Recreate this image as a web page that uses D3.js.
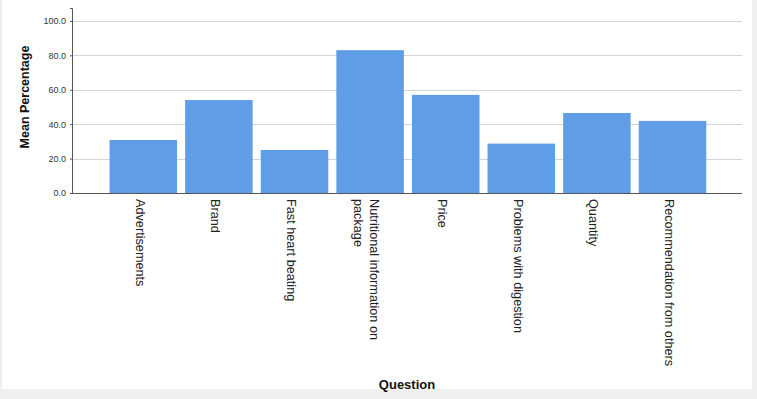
<!DOCTYPE html>
<html>
<head>
<meta charset="utf-8">
<script src="https://cdn.jsdelivr.net/npm/d3@7"></script>
<style>
  body { margin: 0; background: #f0f0f0; }
  svg { display: block; font-family: "Liberation Sans", Arial, sans-serif; }
</style>
</head>
<body>
<div id="chart"></div>
<script>
const categories = [
  ["Advertisements"],
  ["Brand"],
  ["Fast heart beating"],
  ["Nutritional information on", "package"],
  ["Price"],
  ["Problems with digestion"],
  ["Quantity"],
  ["Recommendation from others"]
];
const values = [30.8, 54.0, 25.0, 83.0, 57.0, 28.7, 46.5, 41.9];
const yTicks = [0, 20, 40, 60, 80, 100];

const W = 757, H = 399;
const svg = d3.select("#chart").append("svg")
  .attr("width", W)
  .attr("height", H);

// white panel
svg.append("rect")
  .attr("x", 2).attr("y", 0)
  .attr("width", 750).attr("height", 389)
  .attr("fill", "#fff");

const axisX = 72, plotRight = 742, baseY = 193, topY = 8;

const x = d3.scaleBand()
  .domain(d3.range(categories.length))
  .range([105.5, 710.3])
  .paddingInner(0.107)
  .paddingOuter(0.0535);

const y = d3.scaleLinear()
  .domain([0, 107.5])
  .range([baseY, topY]);

// grid lines
svg.append("g")
  .selectAll("line")
  .data(yTicks.filter(d => d > 0))
  .enter().append("line")
  .attr("x1", axisX).attr("x2", plotRight)
  .attr("y1", d => Math.round(y(d)) + 0.5)
  .attr("y2", d => Math.round(y(d)) + 0.5)
  .attr("stroke", "#d4d4d4");

// y axis
const yAxis = svg.append("g")
  .attr("transform", `translate(${axisX},0)`)
  .call(d3.axisLeft(y).tickValues(yTicks).tickFormat(d3.format(".1f")).tickSize(2).tickPadding(4));
yAxis.select(".domain").attr("stroke", "#555");
yAxis.selectAll(".tick line").attr("stroke", "#555");
yAxis.selectAll(".tick text")
  .attr("font-size", 9)
  .attr("font-family", "Liberation Sans, Arial, sans-serif")
  .attr("fill", "#333");

// bars
svg.append("g")
  .selectAll("rect")
  .data(values)
  .enter().append("rect")
  .attr("x", (d, i) => x(i))
  .attr("width", x.bandwidth())
  .attr("y", d => y(d))
  .attr("height", d => baseY - y(d))
  .attr("fill", "#5f9ee6");

// x baseline
svg.append("line")
  .attr("x1", axisX - 1).attr("x2", plotRight)
  .attr("y1", baseY + 0.5).attr("y2", baseY + 0.5)
  .attr("stroke", "#555");

// category labels, rotated 90deg
const labels = svg.append("g")
  .selectAll("text")
  .data(categories)
  .enter().append("text")
  .attr("transform", (d, i) => {
    const cx = x(i) + x.bandwidth() / 2 + (d.length > 1 ? 4 : -3);
    return `translate(${cx},199) rotate(90)`;
  })
  .attr("font-size", 12.7)
  .attr("fill", "#222");
labels.each(function (d) {
  const t = d3.select(this);
  d.forEach((line, k) => {
    t.append("tspan")
      .attr("x", 0)
      .attr("dy", k === 0 ? "0.35em" : "1.25em")
      .text(line);
  });
});

// axis titles
svg.append("text")
  .attr("transform", "translate(29,97) rotate(-90)")
  .attr("text-anchor", "middle")
  .attr("font-size", 12.5)
  .attr("font-weight", "bold")
  .attr("fill", "#111")
  .text("Mean Percentage");

svg.append("text")
  .attr("x", 407).attr("y", 389)
  .attr("text-anchor", "middle")
  .attr("font-size", 13)
  .attr("font-weight", "bold")
  .attr("fill", "#111")
  .text("Question");
</script>
</body>
</html>
